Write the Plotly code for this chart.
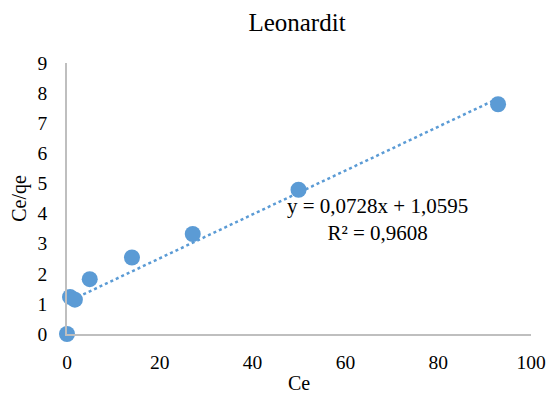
import plotly.graph_objects as go
import numpy as np

ce = [0, 0.65, 1.7, 4.9, 14.0, 27.1, 49.9, 92.9]
ce_qe = [0, 1.23, 1.14, 1.82, 2.54, 3.32, 4.79, 7.63]
slope = 0.0728
intercept = 1.0595
eq_text = "y = 0,0728x + 1,0595<br>R² = 0,9608"

color = "#5B9BD5"
font = "Liberation Serif"

tx = np.array([min(ce), max(ce)])
ty = slope * tx + intercept

fig = go.Figure()
fig.add_trace(go.Scatter(x=tx, y=ty, mode="lines",
                         line=dict(color=color, width=2.5, dash="dot"),
                         hoverinfo="skip", showlegend=False, cliponaxis=False))
fig.add_trace(go.Scatter(x=ce, y=ce_qe, mode="markers",
                         marker=dict(color=color, size=16),
                         showlegend=False, cliponaxis=False))

fig.add_annotation(x=67, y=3.79, xref="x", yref="y", text=eq_text,
                   showarrow=False, font=dict(family=font, size=21, color="#000000"),
                   align="center")

fig.update_layout(
    width=549, height=394,
    margin=dict(l=67, r=18, t=63, b=60, autoexpand=False),
    paper_bgcolor="white", plot_bgcolor="white",
    title=dict(text="Leonardit", x=297/549, xanchor="center", y=1 - 22/394, yanchor="middle",
               font=dict(family=font, size=25, color="#000000")),
    font=dict(family=font, size=19.5, color="#000000"),
)
fig.update_xaxes(range=[0, 100], dtick=20, showgrid=False, zeroline=False,
                 showline=True, linecolor="#BFBFBF", linewidth=1.5,
                 ticks="", ticklen=0, automargin=False, ticklabelstandoff=10,
                 title=dict(text="Ce", font=dict(family=font, size=20), standoff=4),
                 tickfont=dict(family=font, size=19.5))
fig.update_yaxes(range=[0, 9], dtick=1, showgrid=False, zeroline=False,
                 showline=True, linecolor="#BFBFBF", linewidth=1.5,
                 ticks="", ticklen=0, automargin=False, ticklabelstandoff=14,
                 title=dict(text="Ce/qe", font=dict(family=font, size=20), standoff=6),
                 tickfont=dict(family=font, size=19.5))

fig.write_html("out.html")
